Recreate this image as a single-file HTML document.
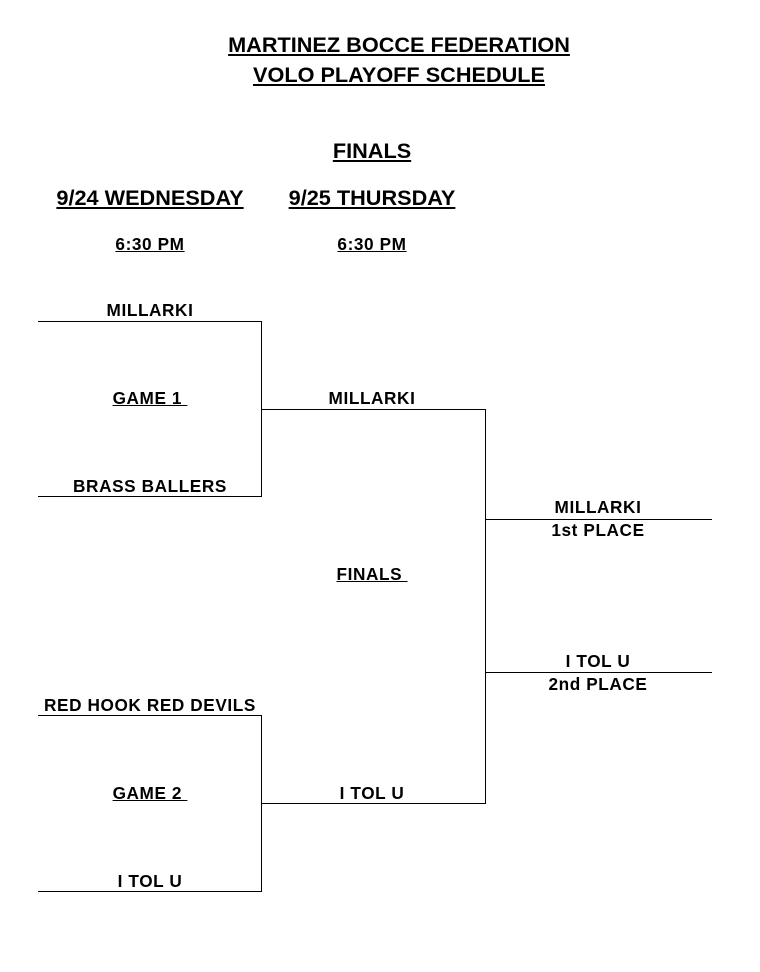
<!DOCTYPE html>
<html><head><meta charset="utf-8"><style>
body{margin:0;width:760px;height:972px;background:#fff;position:relative;font-family:"Liberation Sans",Arial,sans-serif;font-weight:bold;color:#000}
.t{position:absolute;text-align:center;white-space:pre;line-height:22px;transform:translateX(-50%)}
.u{text-decoration:underline}
.h{position:absolute;height:1px;background:#000}
.v{position:absolute;width:1px;background:#000}
.b{font-size:21.7px}
.s{font-size:17.2px;letter-spacing:0.6px}
</style></head><body>
<div class="t u b" style="left:399px;top:34px">MARTINEZ BOCCE FEDERATION</div>
<div class="t u b" style="left:399px;top:64px">VOLO PLAYOFF SCHEDULE</div>
<div class="t u b" style="left:372px;top:140px">FINALS</div>
<div class="t u b" style="left:150px;top:187px">9/24 WEDNESDAY</div>
<div class="t u b" style="left:372px;top:187px">9/25 THURSDAY</div>
<div class="t u s" style="left:150px;top:233px">6:30 PM</div>
<div class="t u s" style="left:372px;top:233px">6:30 PM</div>

<div class="t s" style="left:150px;top:299px">MILLARKI</div>
<div class="t u s" style="left:150px;top:387px">GAME 1 </div>
<div class="t s" style="left:150px;top:475px">BRASS BALLERS</div>
<div class="t s" style="left:372px;top:387px">MILLARKI</div>
<div class="t u s" style="left:372px;top:563px">FINALS </div>
<div class="t s" style="left:598px;top:496px">MILLARKI</div>
<div class="t s" style="left:598px;top:519px">1st PLACE</div>
<div class="t s" style="left:598px;top:650px">I TOL U</div>
<div class="t s" style="left:598px;top:673px">2nd PLACE</div>
<div class="t s" style="left:150px;top:694px">RED HOOK RED DEVILS</div>
<div class="t u s" style="left:150px;top:782px">GAME 2 </div>
<div class="t s" style="left:150px;top:870px">I TOL U</div>
<div class="t s" style="left:372px;top:782px">I TOL U</div>

<div class="h" style="left:38px;top:321px;width:223px"></div>
<div class="h" style="left:38px;top:496px;width:223px"></div>
<div class="v" style="left:261px;top:321px;height:176px"></div>
<div class="h" style="left:261px;top:409px;width:224px"></div>
<div class="v" style="left:485px;top:409px;height:395px"></div>
<div class="h" style="left:485px;top:519px;width:227px"></div>
<div class="h" style="left:485px;top:672px;width:227px"></div>
<div class="h" style="left:38px;top:715px;width:223px"></div>
<div class="h" style="left:38px;top:891px;width:223px"></div>
<div class="v" style="left:261px;top:715px;height:177px"></div>
<div class="h" style="left:261px;top:803px;width:224px"></div>
</body></html>
